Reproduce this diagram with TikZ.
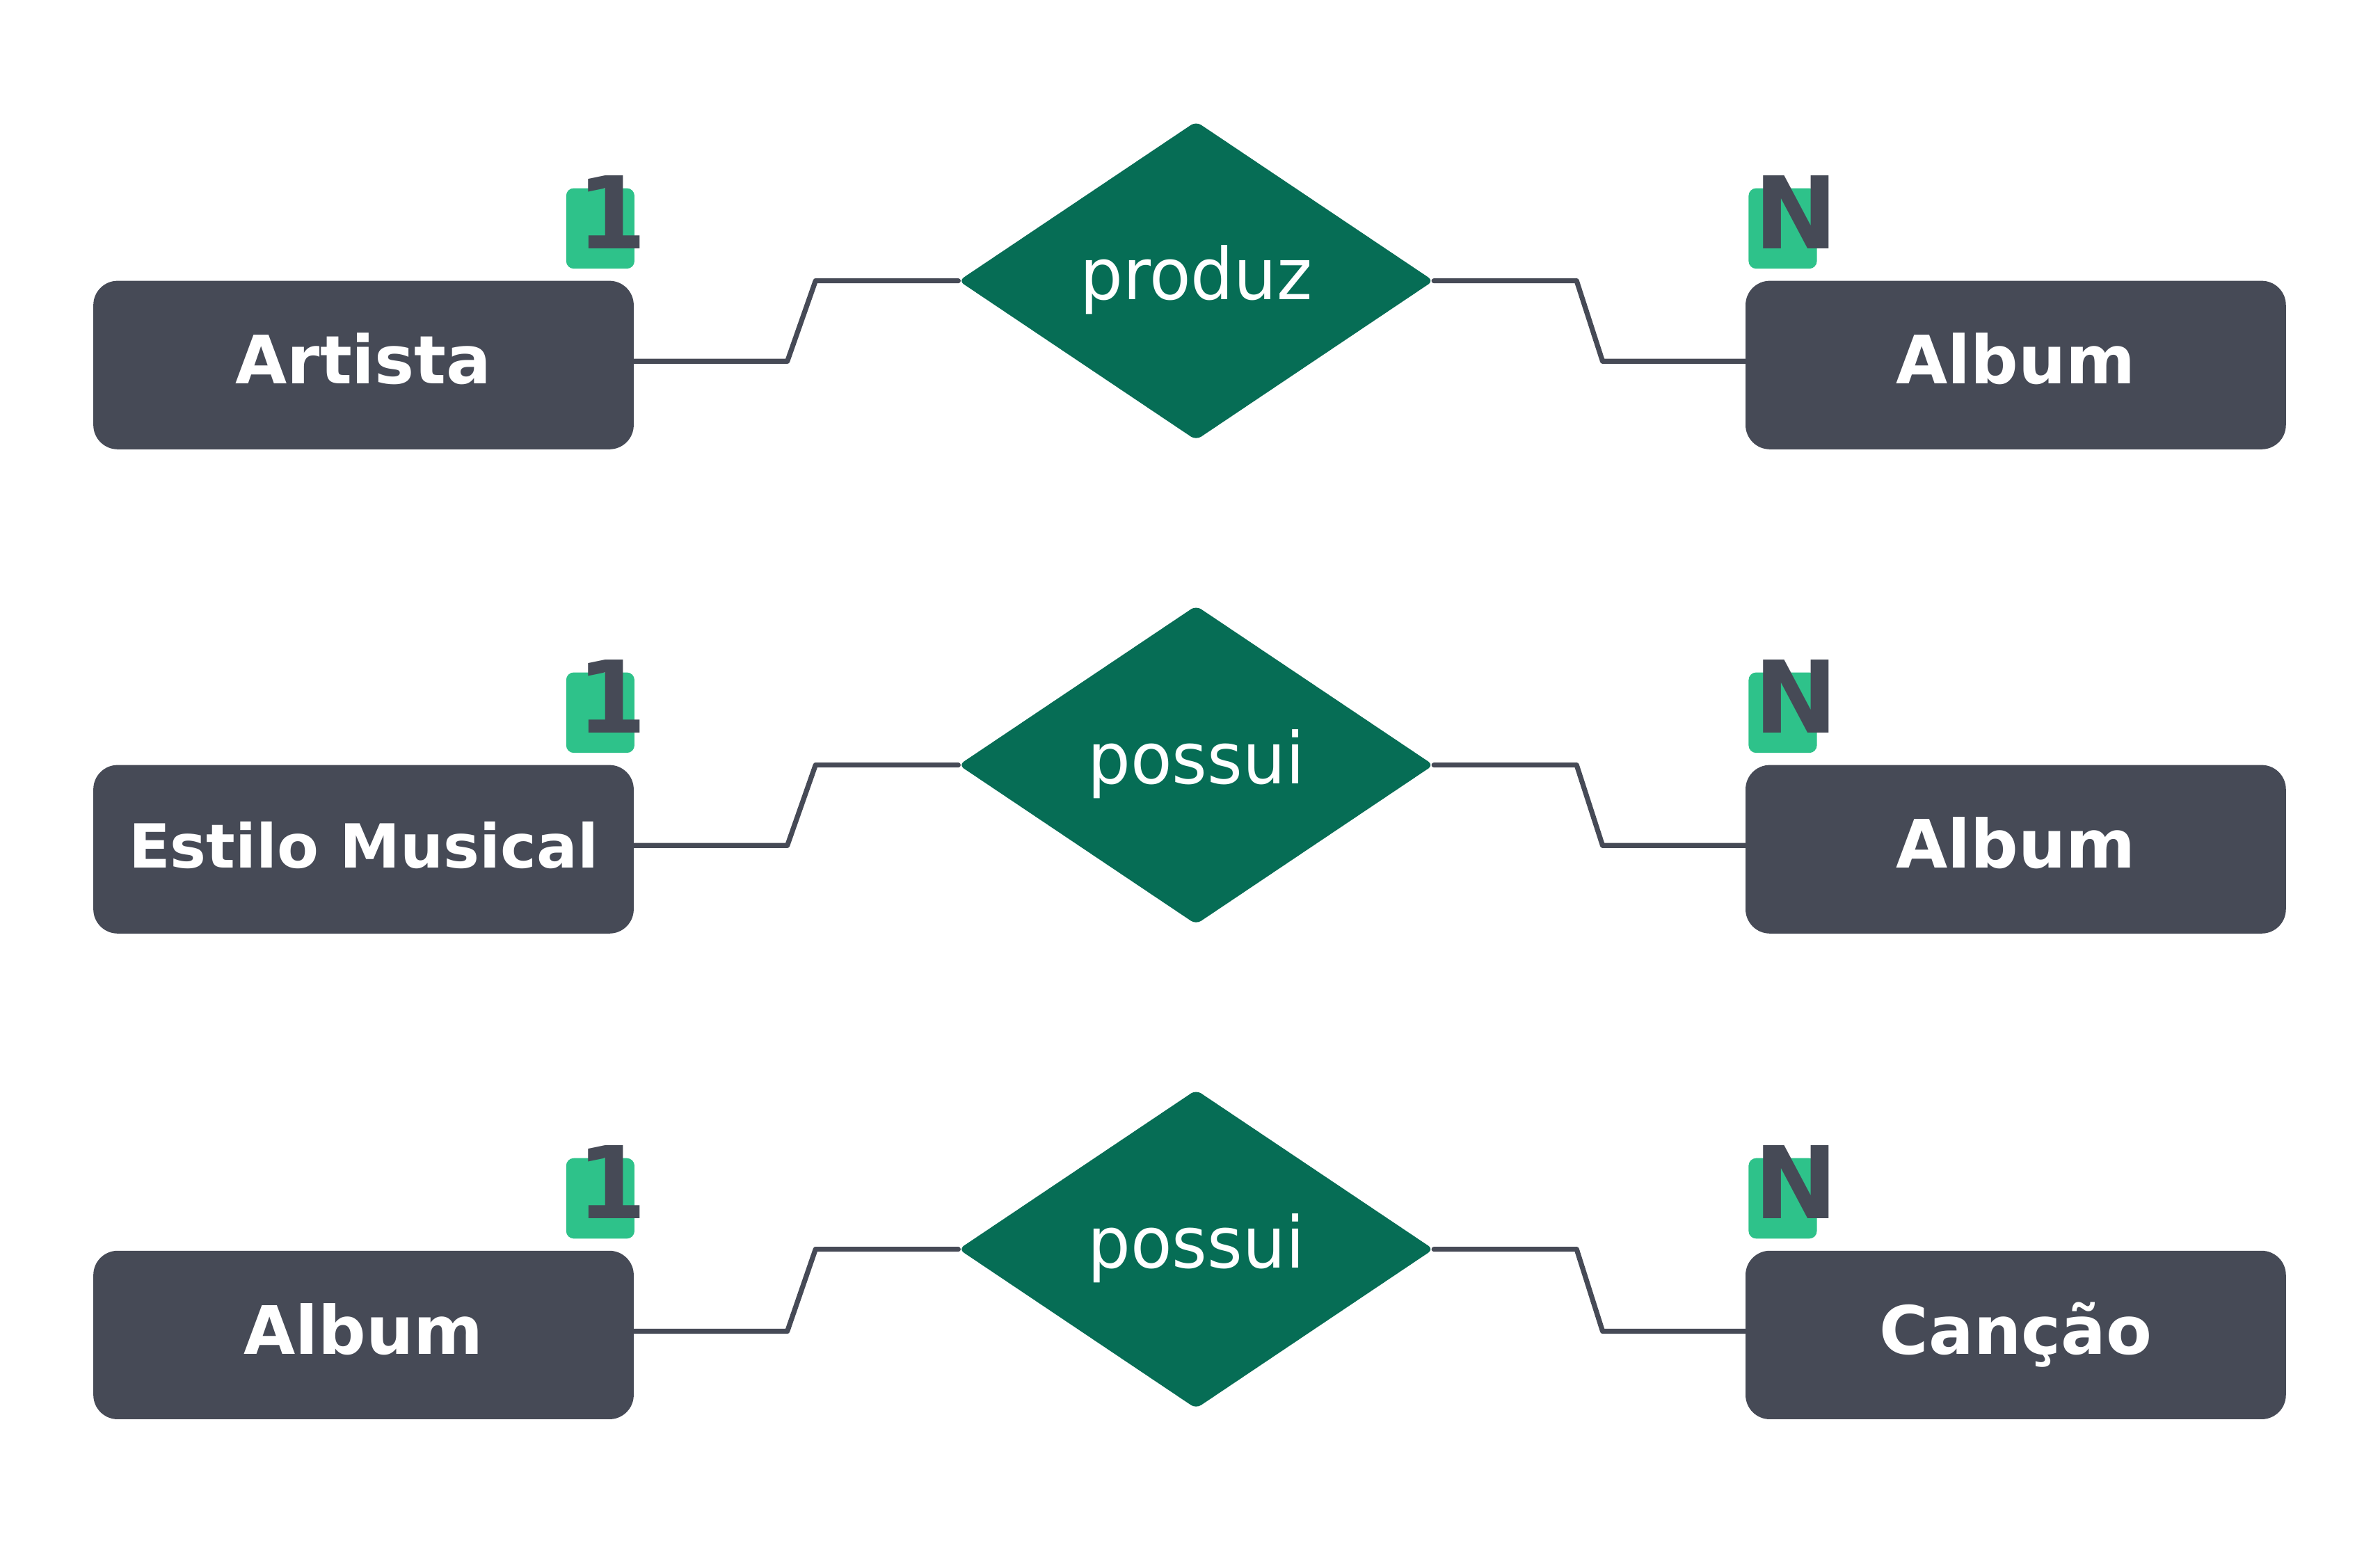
\documentclass[tikz,border=0pt]{standalone}
\usepackage{fontspec}
\setmainfont{DejaVu Sans}
\newfontfamily\relfont[FakeStretch=0.95]{DejaVu Sans}
\usetikzlibrary{shapes.geometric,calc}
\definecolor{slate}{HTML}{464A56}
\definecolor{relgreen}{HTML}{066D55}
\definecolor{badgegreen}{HTML}{2EC28A}
\tikzset{
  entity/.style={fill=slate, rounded corners=16pt, minimum width=356pt, minimum height=111pt,
    inner sep=0pt, text=white, font=\bfseries\fontsize{44}{50}\selectfont,
    text height=35pt, text depth=10pt},
  relation/.style={diamond, fill=relgreen, rounded corners=4pt, minimum width=313pt,
    minimum height=210pt, inner sep=0pt, text=white, font=\relfont\fontsize{47}{54}\selectfont,
    text height=36pt, text depth=11pt},
  badge/.style={fill=badgegreen, rounded corners=5pt, minimum width=45pt, minimum height=53pt, inner sep=0pt},
  card/.style={anchor=base, text=slate, inner sep=0pt, font=\bfseries\fontsize{66}{70}\selectfont},
  conn/.style={draw=slate, line width=3.3pt, line join=round, line cap=round},
}
\begin{document}
\begin{tikzpicture}[x=1pt,y=-1pt]
\useasboundingbox (0,0) rectangle (1568,1015);

% entities
\node[entity] (art)  at (239.5,240.5) {Artista};
\node[entity] (alb1) at (1328,240.5)  {Album};
\node[entity] (est)  at (239.5,559.5) {\fontsize{40}{46}\selectfont Estilo Musical};
\node[entity] (alb2) at (1328,559.5)  {Album};
\node[entity] (alb3) at (239.5,879.5) {Album};
\node[entity] (can)  at (1328,879.5)  {Canção};

% relationships
\node[relation] (rel1) at (788,185) {produz};
\node[relation] (rel2) at (788,504) {possui};
\node[relation] (rel3) at (788,823) {possui};

% connectors
\foreach \e/\r/\f in {art/rel1/alb1, est/rel2/alb2, alb3/rel3/can}{
  \draw[conn] (\e.east) ++(0,-2.5) -- ++(101,0) -- ($(\r.west)+(-94,0)$) -- (\r.west);
  \draw[conn] (\f.west) ++(0,-2.5) -- ++(-94,0) -- ($(\r.east)+(94,0)$) -- (\r.east);
}

% cardinalities
\foreach \y/\n in {0/a, 319/b, 639/c}{
  \node[badge] (b1\n) at (395.5,150.5+\y) {};
  \node[card]  (c1\n) at (403,164+\y) {1};
  \node[badge] (bN\n) at (1174.5,150.5+\y) {};
  \node[card]  (cN\n) at (1183.5,164+\y) {N};
}
\end{tikzpicture}
\end{document}
